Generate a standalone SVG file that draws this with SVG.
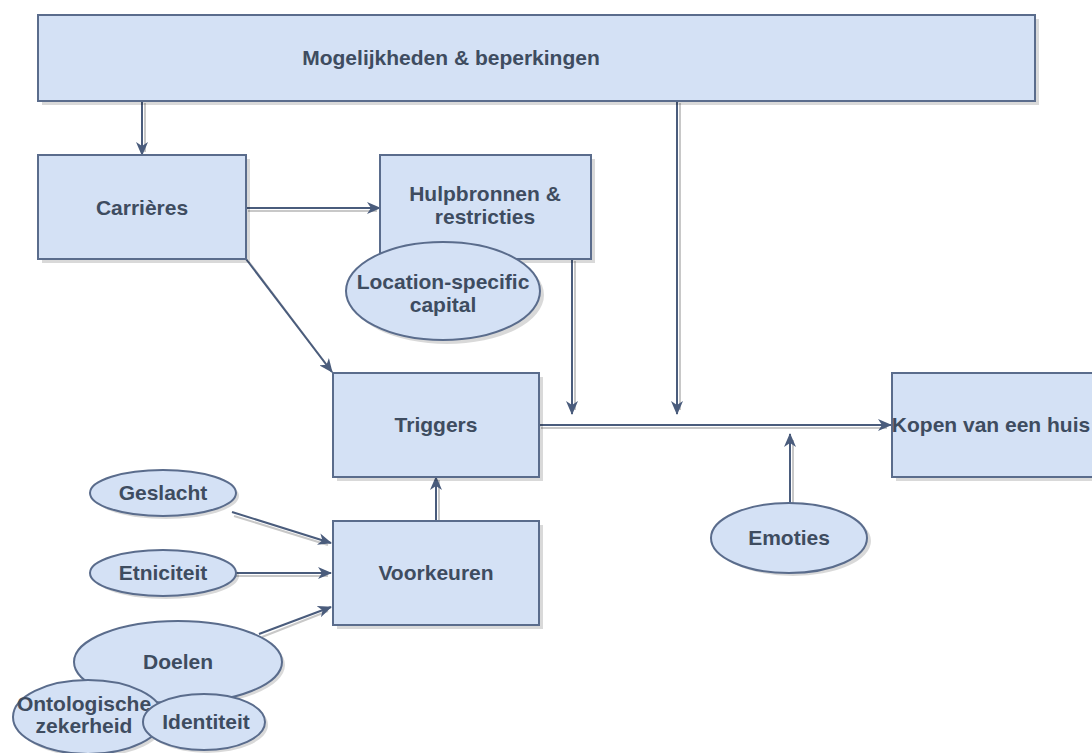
<svg xmlns="http://www.w3.org/2000/svg" width="1092" height="753" viewBox="0 0 1092 753">
<style>
.n{fill:#D4E1F5;stroke:#5A6C8C;stroke-width:2}
.sh{fill:#000;opacity:0.15}
.t{font-family:"Liberation Sans",Arial,sans-serif;font-weight:bold;font-size:21px;fill:#3E4C60;text-anchor:middle}
.c{stroke:#4A5C7C;stroke-width:2;fill:none;marker-end:url(#a)}
.cs{stroke:#C8C8C8;stroke-width:2;fill:none}
</style>
<defs>
<marker id="a" markerUnits="userSpaceOnUse" markerWidth="14" markerHeight="12" refX="13" refY="6" orient="auto">
<path d="M0,0 L14,6 L0,12 L4,6 Z" fill="#4A5C7C"/>
</marker>
</defs>
<rect width="1092" height="753" fill="#fff"/>
<g id="connectors">
<g class="shadows">
<line class="cs" x1="145" y1="103" x2="145" y2="152"/>
<line class="cs" x1="248" y1="211" x2="377" y2="211"/>
<line class="cs" x1="249" y1="262" x2="332" y2="372"/>
<line class="cs" x1="575" y1="261" x2="575" y2="410"/>
<line class="cs" x1="680" y1="103" x2="680" y2="410"/>
<line class="cs" x1="541" y1="428" x2="887" y2="428"/>
<line class="cs" x1="793" y1="503" x2="793" y2="440"/>
<line class="cs" x1="439" y1="521" x2="439" y2="480"/>
<line class="cs" x1="234" y1="516" x2="328" y2="545"/>
<line class="cs" x1="236" y1="576" x2="328" y2="576"/>
<line class="cs" x1="262" y1="637" x2="328" y2="611"/>
</g>
<line class="c" x1="142" y1="101" x2="142" y2="155"/>
<line class="c" x1="246" y1="208" x2="380" y2="208"/>
<line class="c" x1="246" y1="259" x2="332" y2="372"/>
<line class="c" x1="572" y1="259" x2="572" y2="414"/>
<line class="c" x1="677" y1="101" x2="677" y2="414"/>
<line class="c" x1="539" y1="425" x2="891" y2="425"/>
<line class="c" x1="790" y1="503" x2="790" y2="434"/>
<line class="c" x1="436" y1="521" x2="436" y2="477"/>
<line class="c" x1="232" y1="512" x2="331" y2="543"/>
<line class="c" x1="235" y1="573" x2="331" y2="573"/>
<line class="c" x1="259" y1="634" x2="331" y2="607"/>
</g>
<g id="top">
<rect class="sh" x="42" y="19" width="997" height="86"/>
<rect class="n" x="38" y="15" width="997" height="86"/>
<text class="t" x="451" y="65">Mogelijkheden &amp; beperkingen</text>
</g>
<g id="carrieres">
<rect class="sh" x="42" y="159" width="208" height="104"/>
<rect class="n" x="38" y="155" width="208" height="104"/>
<text class="t" x="142" y="215">Carrières</text>
</g>
<g id="hulpbronnen">
<rect class="sh" x="384" y="159" width="211" height="104"/>
<rect class="n" x="380" y="155" width="211" height="104"/>
<text class="t" x="485" y="201">Hulpbronnen &amp;</text>
<text class="t" x="485" y="224">restricties</text>
</g>
<g id="location">
<ellipse class="sh" cx="447" cy="295" rx="97" ry="49"/>
<ellipse class="n" cx="443" cy="291" rx="97" ry="49"/>
<text class="t" x="443" y="289">Location-specific</text>
<text class="t" x="443" y="312">capital</text>
</g>
<g id="triggers">
<rect class="sh" x="337" y="377" width="206" height="104"/>
<rect class="n" x="333" y="373" width="206" height="104"/>
<text class="t" x="436" y="432">Triggers</text>
</g>
<g id="kopen">
<rect class="sh" x="896" y="377" width="210" height="104"/>
<rect class="n" x="892" y="373" width="210" height="104"/>
<text class="t" x="991" y="432">Kopen van een huis</text>
</g>
<g id="voorkeuren">
<rect class="sh" x="337" y="525" width="206" height="104"/>
<rect class="n" x="333" y="521" width="206" height="104"/>
<text class="t" x="436" y="580">Voorkeuren</text>
</g>
<g id="emoties">
<ellipse class="sh" cx="793" cy="541" rx="78" ry="35"/>
<ellipse class="n" cx="789" cy="538" rx="78" ry="35"/>
<text class="t" x="789" y="545">Emoties</text>
</g>
<g id="geslacht">
<ellipse class="sh" cx="166" cy="496" rx="73" ry="23"/>
<ellipse class="n" cx="163" cy="493" rx="73" ry="23"/>
<text class="t" x="163" y="500">Geslacht</text>
</g>
<g id="etniciteit">
<ellipse class="sh" cx="166" cy="576" rx="73" ry="23"/>
<ellipse class="n" cx="163" cy="573" rx="73" ry="23"/>
<text class="t" x="163" y="580">Etniciteit</text>
</g>
<g id="doelen">
<ellipse class="sh" cx="181" cy="665" rx="104" ry="41"/>
<ellipse class="n" cx="178" cy="662" rx="104" ry="41"/>
<text class="t" x="178" y="669">Doelen</text>
</g>
<g id="ontologische">
<ellipse class="sh" cx="91" cy="720" rx="75" ry="37"/>
<ellipse class="n" cx="88" cy="717" rx="75" ry="37"/>
<text class="t" x="84" y="711">Ontologische</text>
<text class="t" x="84" y="733">zekerheid</text>
</g>
<g id="identiteit">
<ellipse class="sh" cx="207" cy="725" rx="61" ry="28"/>
<ellipse class="n" cx="204" cy="722" rx="61" ry="28"/>
<text class="t" x="206" y="729">Identiteit</text>
</g>
</svg>
